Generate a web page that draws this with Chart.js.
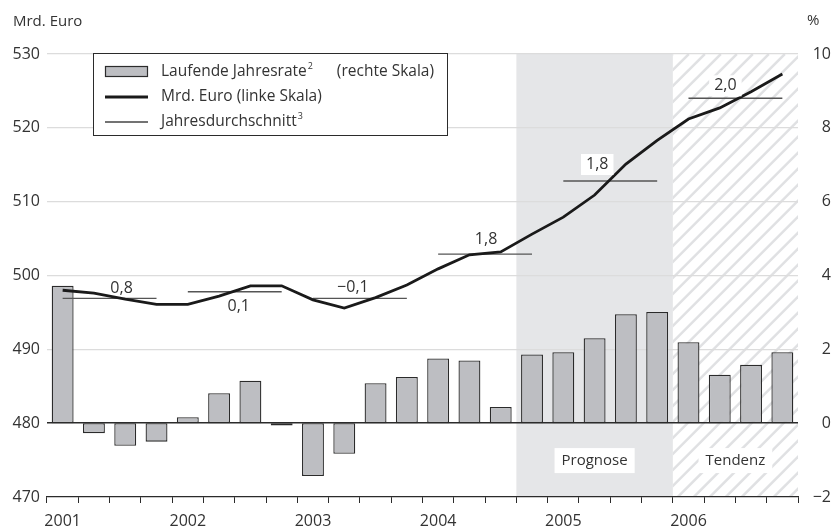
<!DOCTYPE html>
<html>
<head>
<meta charset="utf-8">
<script src="https://cdn.jsdelivr.net/npm/chart.js@4/dist/chart.umd.min.js"></script>
<style>
  body { margin: 0; background: #fff; }
  canvas { display: block; }
</style>
</head>
<body>
<canvas id="chart" width="831" height="531"></canvas>
<script>
const quarters = [
  '2001 Q1', '2001 Q2', '2001 Q3', '2001 Q4',
  '2002 Q1', '2002 Q2', '2002 Q3', '2002 Q4',
  '2003 Q1', '2003 Q2', '2003 Q3', '2003 Q4',
  '2004 Q1', '2004 Q2', '2004 Q3', '2004 Q4',
  '2005 Q1', '2005 Q2', '2005 Q3', '2005 Q4',
  '2006 Q1', '2006 Q2', '2006 Q3', '2006 Q4'
]
// laufende Jahresrate in % (rechte Skala)
const rateValues = [
  3.72, -0.27, -0.61, -0.5,
  0.16, 0.81, 1.15, -0.06,
  -1.43, -0.83, 1.08, 1.25,
  1.75, 1.70, 0.44, 1.86,
  1.92, 2.30, 2.95, 3.01,
  2.19, 1.31, 1.58, 1.92
]
// Mrd. Euro (linke Skala)
const euroValues = [
  498.0, 497.6, 496.8, 496.1,
  496.1, 497.2, 498.6, 498.6,
  496.7, 495.6, 497.0, 498.7,
  500.9, 502.8, 503.2, 505.6,
  507.9, 510.9, 515.1, 518.3,
  521.2, 522.7, 524.9, 527.3
]
const years = ['2001', '2002', '2003', '2004', '2005', '2006']
const yearAverage = [496.9, 497.8, 496.9, 502.9, 512.8, 524.0]
const yearRateLabels = ['0,8', '0,1', '\u22120,1', '1,8', '1,8', '2,0']
const regions = [
  { name: 'Prognose', from: '2004 Q4', to: '2005 Q4', style: 'fill' },
  { name: 'Tendenz', from: '2006 Q1', to: '2006 Q4', style: 'hatch' }
]

// label placement relative to the yearly average line (dx, dy in px)
const labelOffsets = [[12, -10], [4, 15], [-7, -11], [1, -15], [-13, -17], [-10, -13]]

const FONT = "'Open Sans', sans-serif"
const TEXT = '#333'
const BAR_FILL = '#bdbec2'
const DARK = '#2b2b2b'

// each quarter gets its year's average
const averageSeries = quarters.map(q => yearAverage[years.indexOf(q.slice(0, 4))])

const shadePlugin = {
  id: 'shade',
  beforeDraw(chart) {
    const { ctx, chartArea, scales } = chart
    const x = scales.x
    ctx.save()
    ctx.fillStyle = '#fff'
    ctx.fillRect(0, 0, chart.width, chart.height)
    const half = (x.getPixelForValue(1) - x.getPixelForValue(0)) / 2
    regions.forEach(r => {
      const x0 = x.getPixelForValue(quarters.indexOf(r.from)) - half
      const x1 = x.getPixelForValue(quarters.indexOf(r.to)) + half
      const top = chartArea.top
      const h = chartArea.bottom - top
      if (r.style === 'fill') {
        ctx.fillStyle = '#e5e6e8'
        ctx.fillRect(x0, top, x1 - x0, h)
      } else {
        ctx.save()
        ctx.beginPath()
        ctx.rect(x0, top, x1 - x0, h)
        ctx.clip()
        ctx.strokeStyle = '#e0e1e3'
        ctx.lineWidth = 2.5
        for (let s = x0 - h; s < x1 + 20; s += 16) {
          ctx.beginPath()
          ctx.moveTo(s, chartArea.bottom)
          ctx.lineTo(s + h, top)
          ctx.stroke()
        }
        ctx.restore()
      }
      // region caption in a white box
      const cx = (x0 + x1) / 2
      const cy = scales.y.getPixelForValue(475)
      ctx.font = '15px ' + FONT
      const w = ctx.measureText(r.name).width
      ctx.fillStyle = '#fff'
      ctx.fillRect(cx - w / 2 - 7, cy - 12, w + 14, 25)
      ctx.fillStyle = TEXT
      ctx.textAlign = 'center'
      ctx.textBaseline = 'middle'
      ctx.fillText(r.name, cx, cy + 1)
    })
    ctx.restore()
  }
}

const annotatePlugin = {
  id: 'annotate',
  afterDatasetsDraw(chart) {
    const { ctx, scales } = chart
    const x = scales.x
    const y = scales.y
    ctx.save()
    ctx.textAlign = 'center'
    ctx.textBaseline = 'middle'
    ctx.font = '16px ' + FONT

    // yearly rate labels next to the average lines
    years.forEach((yr, k) => {
      const i0 = quarters.indexOf(yr + ' Q1')
      const cx = (x.getPixelForValue(i0) + x.getPixelForValue(i0 + 3)) / 2 + labelOffsets[k][0]
      const cy = y.getPixelForValue(yearAverage[k]) + labelOffsets[k][1]
      const w = ctx.measureText(yearRateLabels[k]).width
      if (k >= 4) {
        ctx.fillStyle = '#fff'
        ctx.fillRect(cx - w / 2 - 5, cy - 10, w + 10, 21)
      }
      ctx.fillStyle = TEXT
      ctx.fillText(yearRateLabels[k], cx, cy)
    })

    // axis titles
    ctx.font = '15px ' + FONT
    ctx.textAlign = 'left'
    ctx.fillText('Mrd. Euro', 13, 22)
    ctx.fillText('%', 807, 21)

    // legend box
    const lx = 93, ly = 53, lw = 354, lh = 82
    ctx.fillStyle = '#fff'
    ctx.fillRect(lx, ly, lw, lh)
    ctx.strokeStyle = DARK
    ctx.lineWidth = 1
    ctx.strokeRect(lx + 0.5, ly + 0.5, lw, lh)

    ctx.fillStyle = BAR_FILL
    ctx.fillRect(105, 66, 43, 11)
    ctx.strokeStyle = DARK
    ctx.lineWidth = 1.2
    ctx.strokeRect(105.5, 66.5, 42, 10)

    ctx.strokeStyle = '#1a1a1a'
    ctx.lineWidth = 2.8
    ctx.beginPath(); ctx.moveTo(105, 97); ctx.lineTo(148, 97); ctx.stroke()
    ctx.strokeStyle = '#444'
    ctx.lineWidth = 1.3
    ctx.beginPath(); ctx.moveTo(105, 122); ctx.lineTo(148, 122); ctx.stroke()

    const rows = [
      ['Laufende Jahresrate', '2', '(rechte Skala)'],
      ['Mrd. Euro (linke Skala)', '', ''],
      ['Jahresdurchschnitt', '3', '']
    ]
    rows.forEach((r, j) => {
      const ty = 72 + j * 25
      let tx = 161
      ctx.fillStyle = TEXT
      ctx.font = '15.5px ' + FONT
      ctx.fillText(r[0], tx, ty)
      tx += ctx.measureText(r[0]).width + 1
      if (r[1]) {
        ctx.font = '9px ' + FONT
        ctx.fillText(r[1], tx, ty - 6)
        tx += ctx.measureText(r[1]).width
      }
      if (r[2]) {
        ctx.font = '15.5px ' + FONT
        ctx.fillText(r[2], tx + 24, ty)
      }
    })
    ctx.restore()
  }
}

new Chart(document.getElementById('chart'), {
  data: {
    labels: quarters,
    datasets: [
      {
        type: 'line',
        label: 'Mrd. Euro (linke Skala)',
        data: euroValues,
        yAxisID: 'y',
        borderColor: '#1a1a1a',
        borderWidth: 2.8,
        pointRadius: 0,
        tension: 0,
        order: 0
      },
      {
        type: 'line',
        label: 'Jahresdurchschnitt',
        data: averageSeries,
        yAxisID: 'y',
        borderColor: '#555',
        borderWidth: 1.4,
        pointRadius: 0,
        segment: {
          borderColor: c => (c.p0DataIndex % 4 === 3 ? 'rgba(0,0,0,0)' : '#555')
        },
        order: 1
      },
      {
        type: 'bar',
        label: 'Laufende Jahresrate (rechte Skala)',
        data: rateValues,
        yAxisID: 'y2',
        backgroundColor: BAR_FILL,
        borderColor: DARK,
        borderWidth: 1.3,
        borderSkipped: false,
        barPercentage: 0.7,
        categoryPercentage: 1,
        order: 2
      }
    ]
  },
  options: {
    responsive: false,
    animation: false,
    layout: { padding: { top: 54, left: 0, right: 0, bottom: 0 } },
    plugins: { legend: { display: false }, tooltip: { enabled: false } },
    scales: {
      x: {
        type: 'category',
        offset: true,
        grid: { offset: true, drawOnChartArea: false, drawTicks: true, tickLength: 6, color: DARK, lineWidth: 1 },
        border: { display: true, color: DARK, width: 1.2 },
        ticks: {
          autoSkip: false,
          maxRotation: 0,
          padding: 9,
          color: TEXT,
          font: { family: FONT, size: 16 },
          callback: (v, i) => (quarters[i].endsWith('Q1') ? quarters[i].slice(0, 4) : '')
        },
        afterFit: s => { s.height = 34 }
      },
      y: {
        position: 'left',
        min: 470,
        max: 530,
        ticks: { stepSize: 10, padding: 7, color: TEXT, font: { family: FONT, size: 16 } },
        grid: {
          drawTicks: false,
          color: c => (c.tick.value === 480 ? DARK : c.tick.value === 470 ? 'rgba(0,0,0,0)' : '#dcdcdc'),
          lineWidth: c => (c.tick.value === 480 ? 1.5 : 1.2)
        },
        border: { display: false },
        afterFit: s => { s.width = 47 }
      },
      y2: {
        position: 'right',
        min: -2,
        max: 10,
        ticks: {
          stepSize: 2,
          padding: 13,
          crossAlign: 'far',
          color: TEXT,
          font: { family: FONT, size: 16 },
          callback: v => String(v).replace('-', '\u2212')
        },
        grid: { display: false, drawTicks: false },
        border: { display: false },
        afterFit: s => { s.width = 33 }
      }
    }
  },
  plugins: [shadePlugin, annotatePlugin]
})
</script>
</body>
</html>
